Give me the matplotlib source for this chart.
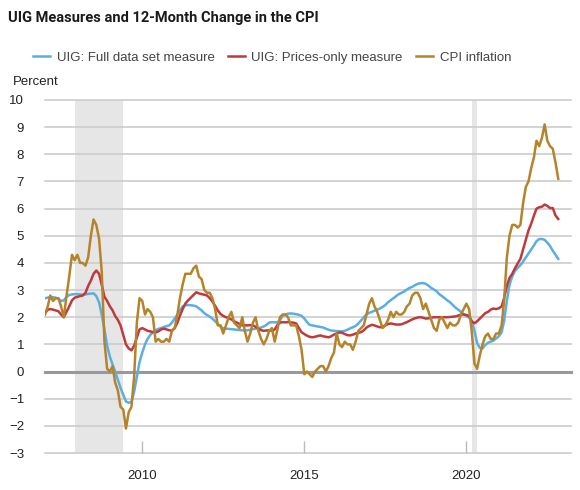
import matplotlib
matplotlib.use("Agg")
import matplotlib.pyplot as plt
import pandas as pd

# monthly data, Jan 2007 - Nov 2022
months = pd.date_range("2007-01-01", periods=191, freq="MS")

# UIG full data set measure
uig_full = [
    2.70, 2.72, 2.75, 2.74, 2.72, 2.68, 2.60, 2.62, 2.75, 2.82, 2.84, 2.85,  # 2007
    2.85, 2.84, 2.83, 2.84, 2.86, 2.87, 2.88, 2.78, 2.55, 2.10, 1.55, 0.95,  # 2008
    0.55, 0.25, 0.00, -0.30, -0.60, -0.85, -1.10, -1.15, -1.12, -0.75, -0.20, 0.35,  # 2009
    0.70, 1.00, 1.20, 1.35, 1.45, 1.52, 1.57, 1.60, 1.64, 1.67, 1.70, 1.80,  # 2010
    1.95, 2.10, 2.25, 2.40, 2.44, 2.45, 2.44, 2.43, 2.40, 2.33, 2.25, 2.15,  # 2011
    2.08, 2.02, 1.95, 1.85, 1.75, 1.65, 1.59, 1.58, 1.57, 1.56, 1.55, 1.54,  # 2012
    1.53, 1.52, 1.51, 1.52, 1.54, 1.56, 1.58, 1.60, 1.62, 1.66, 1.72, 1.80,  # 2013
    1.82, 1.81, 1.81, 1.88, 2.05, 2.10, 2.13, 2.14, 2.13, 2.11, 2.09, 2.05,  # 2014
    1.95, 1.82, 1.72, 1.70, 1.68, 1.66, 1.64, 1.62, 1.58, 1.54, 1.51, 1.50,  # 2015
    1.49, 1.48, 1.48, 1.50, 1.54, 1.59, 1.63, 1.68, 1.77, 1.88, 2.00, 2.10,  # 2016
    2.16, 2.20, 2.24, 2.28, 2.32, 2.38, 2.45, 2.55, 2.63, 2.70, 2.78, 2.85,  # 2017
    2.90, 2.95, 3.02, 3.08, 3.12, 3.18, 3.23, 3.25, 3.26, 3.23, 3.16, 3.08,  # 2018
    3.02, 2.95, 2.85, 2.78, 2.70, 2.62, 2.55, 2.45, 2.35, 2.28, 2.20, 2.12,  # 2019
    2.05, 1.98, 1.85, 1.50, 1.05, 0.87, 0.85, 0.98, 1.06, 1.10, 1.14, 1.22,  # 2020
    1.30, 1.45, 1.85, 2.60, 3.20, 3.50, 3.70, 3.82, 3.92, 4.05, 4.20, 4.35,  # 2021
    4.50, 4.65, 4.80, 4.88, 4.88, 4.85, 4.75, 4.62, 4.45, 4.30, 4.15,  # 2022
]

# UIG prices-only measure
uig_prices = [
    2.14, 2.28, 2.30, 2.28, 2.25, 2.22, 2.10, 2.00, 2.20, 2.40, 2.62, 2.72,  # 2007
    2.75, 2.78, 2.80, 2.90, 3.15, 3.35, 3.60, 3.72, 3.60, 3.20, 2.75, 2.60,  # 2008
    2.40, 2.25, 2.05, 1.90, 1.70, 1.35, 1.00, 0.85, 0.78, 0.95, 1.25, 1.55,  # 2009
    1.60, 1.55, 1.50, 1.48, 1.45, 1.44, 1.48, 1.55, 1.58, 1.55, 1.52, 1.50,  # 2010
    1.60, 1.80, 2.05, 2.30, 2.50, 2.62, 2.72, 2.82, 2.92, 2.88, 2.85, 2.83,  # 2011
    2.80, 2.70, 2.58, 2.42, 2.25, 2.12, 2.05, 2.00, 1.97, 1.92, 1.85, 1.80,  # 2012
    1.75, 1.70, 1.70, 1.70, 1.71, 1.70, 1.65, 1.58, 1.52, 1.50, 1.51, 1.52,  # 2013
    1.50, 1.55, 1.70, 1.80, 1.82, 1.81, 1.82, 1.81, 1.80, 1.77, 1.60, 1.45,  # 2014
    1.38, 1.32, 1.28, 1.26, 1.28, 1.31, 1.33, 1.30, 1.28, 1.26, 1.30, 1.36,  # 2015
    1.40, 1.44, 1.43, 1.38, 1.34, 1.33, 1.36, 1.40, 1.43, 1.45, 1.52, 1.62,  # 2016
    1.68, 1.72, 1.70, 1.66, 1.63, 1.65, 1.70, 1.75, 1.77, 1.75, 1.73, 1.73,  # 2017
    1.74, 1.78, 1.82, 1.87, 1.92, 1.96, 1.99, 2.00, 1.98, 1.95, 1.96, 1.98,  # 2018
    2.00, 2.00, 2.00, 1.99, 2.00, 2.00, 2.01, 2.02, 2.03, 2.06, 2.10, 2.10,  # 2019
    2.08, 2.05, 1.85, 1.78, 1.85, 1.95, 2.05, 2.15, 2.20, 2.28, 2.32, 2.30,  # 2020
    2.33, 2.40, 2.70, 3.15, 3.45, 3.60, 3.80, 3.98, 4.15, 4.50, 4.85, 5.20,  # 2021
    5.45, 5.75, 6.00, 6.05, 6.07, 6.15, 6.10, 6.02, 6.02, 5.75, 5.62,  # 2022
]

# CPI 12-month change
cpi = [
    2.1, 2.4, 2.8, 2.6, 2.7, 2.7, 2.4, 2.0, 2.8, 3.5, 4.3, 4.1,  # 2007
    4.3, 4.0, 4.0, 3.9, 4.2, 5.0, 5.6, 5.4, 4.9, 3.7, 1.1, 0.1,  # 2008
    0.0, 0.2, -0.4, -0.7, -1.3, -1.4, -2.1, -1.5, -1.3, -0.2, 1.8, 2.7,  # 2009
    2.6, 2.1, 2.3, 2.2, 2.0, 1.1, 1.2, 1.1, 1.1, 1.2, 1.1, 1.5,  # 2010
    1.6, 2.1, 2.7, 3.2, 3.6, 3.6, 3.6, 3.8, 3.9, 3.5, 3.4, 3.0,  # 2011
    2.9, 2.9, 2.7, 2.3, 1.7, 1.7, 1.4, 1.7, 2.0, 2.2, 1.8, 1.7,  # 2012
    1.6, 2.0, 1.5, 1.1, 1.4, 1.8, 2.0, 1.5, 1.2, 1.0, 1.2, 1.5,  # 2013
    1.6, 1.1, 1.5, 2.0, 2.1, 2.1, 2.0, 1.7, 1.7, 1.7, 1.3, 0.8,  # 2014
    -0.1, 0.0, -0.1, -0.2, 0.0, 0.1, 0.2, 0.2, 0.0, 0.2, 0.5, 0.7,  # 2015
    1.4, 1.0, 0.9, 1.1, 1.0, 1.0, 0.8, 1.1, 1.5, 1.6, 1.7, 2.1,  # 2016
    2.5, 2.7, 2.4, 2.2, 1.9, 1.6, 1.7, 1.9, 2.2, 2.0, 2.2, 2.1,  # 2017
    2.1, 2.2, 2.4, 2.5, 2.8, 2.9, 2.9, 2.7, 2.3, 2.5, 2.2, 1.9,  # 2018
    1.6, 1.5, 1.9, 2.0, 1.8, 1.6, 1.8, 1.7, 1.7, 1.8, 2.1, 2.3,  # 2019
    2.5, 2.3, 1.5, 0.3, 0.1, 0.6, 1.0, 1.3, 1.4, 1.2, 1.2, 1.4,  # 2020
    1.4, 1.7, 2.6, 4.2, 5.0, 5.4, 5.4, 5.3, 5.4, 6.2, 6.8, 7.0,  # 2021
    7.5, 7.9, 8.5, 8.3, 8.6, 9.1, 8.5, 8.3, 8.2, 7.7, 7.1,  # 2022
]

recessions = [("2007-12-01", "2009-06-01"), ("2020-03-01", "2020-05-01")]
year_ticks = ["2010-01-01", "2015-01-01", "2020-01-01"]
year_labels = ["2010", "2015", "2020"]

plt.rcParams["font.family"] = ["Liberation Sans", "DejaVu Sans"]

fig = plt.figure(figsize=(5.8, 4.9), dpi=100)
ax = fig.add_axes([45 / 580, 37 / 490, 526 / 580, 353 / 490])

for start, end in recessions:
    ax.axvspan(pd.Timestamp(start), pd.Timestamp(end), color="#e6e6e6", lw=0, zorder=0)

for v in range(-3, 11):
    if v == 0:
        continue
    ax.axhline(v, color="#cccccc", lw=1.2, zorder=1, clip_on=False)
ax.axhline(0, color="#999999", lw=2.2, zorder=1, clip_on=False)

ax.plot(months, uig_full, color="#5aaee2", lw=1.8, label="UIG: Full data set measure", zorder=3)
ax.plot(months, uig_prices, color="#c0393c", lw=1.8, label="UIG: Prices-only measure", zorder=3)
ax.plot(months, cpi, color="#b5842a", lw=1.8, label="CPI inflation", zorder=4)

ax.set_xlim(pd.Timestamp("2007-01-01"), pd.Timestamp("2023-03-25"))
ax.set_ylim(-3, 10)
ax.set_yticks(range(-3, 11))
ax.tick_params(axis="y", length=0, pad=15, labelsize=9.5, labelcolor="#222222")
ax.set_xticks([pd.Timestamp(t) for t in year_ticks])
ax.set_xticklabels(year_labels)
ax.tick_params(axis="x", direction="in", length=9, width=1, color="#bbbbbb",
               pad=12, labelsize=9.5, labelcolor="#222222")
for s in ax.spines.values():
    s.set_visible(False)

fig.text(8 / 580, 1 - 18 / 490, "UIG Measures and 12-Month Change in the CPI",
         family=["Roboto", "DejaVu Sans"], fontweight="bold", fontsize=10.5,
         color="#1a1a1a", va="center", ha="left")
fig.text(13 / 580, 1 - 82 / 490, "Percent", fontsize=9.5, color="#222222",
         va="center", ha="left")

fig.legend(loc="center", bbox_to_anchor=(272 / 580, 1 - 58 / 490), ncol=3,
           frameon=False, fontsize=9.5, handlelength=1.3, handletextpad=0.5,
           columnspacing=1.0, labelcolor="#444444")

fig.savefig("out.png", dpi=100)
